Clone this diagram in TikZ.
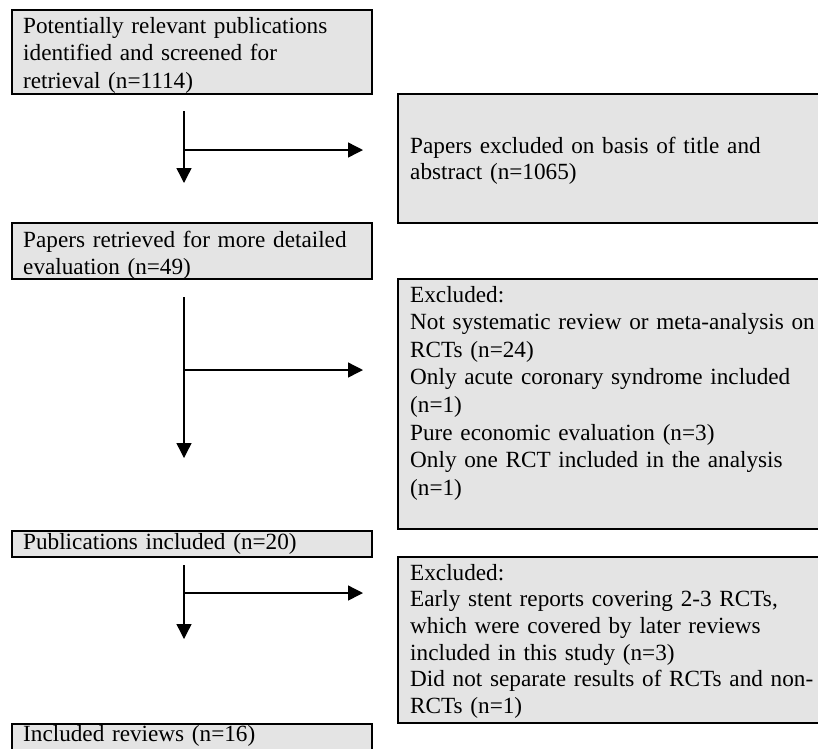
\documentclass[tikz,border=0pt]{standalone}
\usepackage{fontspec}
\setmainfont{Liberation Serif}
\usetikzlibrary{arrows.meta}
\definecolor{boxgray}{HTML}{E4E4E4}
\tikzset{
  box/.style={draw=black, fill=boxgray, line width=1.2pt, anchor=north west, inner sep=0pt, outer sep=0pt},
  txt/.style={anchor=base west, inner sep=0pt, align=left, text width=430pt,
              font=\fontsize{23.2}{27.6}\selectfont},
  flow/.style={line width=1.4pt, draw=black},
  arr/.style={flow, -{Triangle[length=15pt,width=15pt]}}
}
\begin{document}
\begin{tikzpicture}[x=1pt,y=-1pt]
\clip (0,0) rectangle (818,748);
\fill[white] (0,0) rectangle (818,748);
% boxes
\node[box, minimum width=360pt, minimum height=84pt] (b1) at (12,10) {};
\node[box, minimum width=440pt, minimum height=129pt] (b2) at (398,94) {};
\node[box, minimum width=360pt, minimum height=56pt] (b3) at (12,223) {};
\node[box, minimum width=440pt, minimum height=250pt] (b4) at (398,279) {};
\node[box, minimum width=360pt, minimum height=26pt] (b5) at (12,531) {};
\node[box, minimum width=440pt, minimum height=166pt] (b6) at (398,557) {};
\node[box, minimum width=360pt, minimum height=40pt] (b7) at (12,724) {};
% texts
\node[txt] (t1) at (23,33) {Potentially relevant publications\\identified and screened for\\retrieval (n=1114)};
\node[txt, font=\fontsize{23.2}{26.5}\selectfont] (t2) at (410,153) {Papers excluded on basis of title and\\abstract (n=1065)};
\node[txt] (t3) at (23,247) {Papers retrieved for more detailed\\evaluation (n=49)};
\node[txt] (t4) at (410,302) {Excluded:\\Not systematic review or meta-analysis on\\RCTs (n=24)\\Only acute coronary syndrome included\\(n=1)\\Pure economic evaluation (n=3)\\Only one RCT included in the analysis\\(n=1)};
\node[txt] (t5) at (23,549) {Publications included (n=20)};
\node[txt, font=\fontsize{23.2}{26.7}\selectfont] (t6) at (410,580) {Excluded:\\Early stent reports covering 2-3 RCTs,\\which were covered by later reviews\\included in this study (n=3)\\Did not separate results of RCTs and non-\\RCTs (n=1)};
\node[txt] (t7) at (23,741) {Included reviews (n=16)};
% connector points
\coordinate (s1) at (184,111); \coordinate (j1) at (184,150);
\coordinate (d1) at (184,183); \coordinate (r1) at (363,150);
\coordinate (s2) at (184,297); \coordinate (j2) at (184,370);
\coordinate (d2) at (184,458); \coordinate (r2) at (363,370);
\coordinate (s3) at (184,565); \coordinate (j3) at (184,593);
\coordinate (d3) at (184,639); \coordinate (r3) at (363,593);
% arrows
\draw[arr] (s1) -- (d1);
\draw[arr] (j1) -- (r1);
\draw[arr] (s2) -- (d2);
\draw[arr] (j2) -- (r2);
\draw[arr] (s3) -- (d3);
\draw[arr] (j3) -- (r3);
\end{tikzpicture}
\end{document}
